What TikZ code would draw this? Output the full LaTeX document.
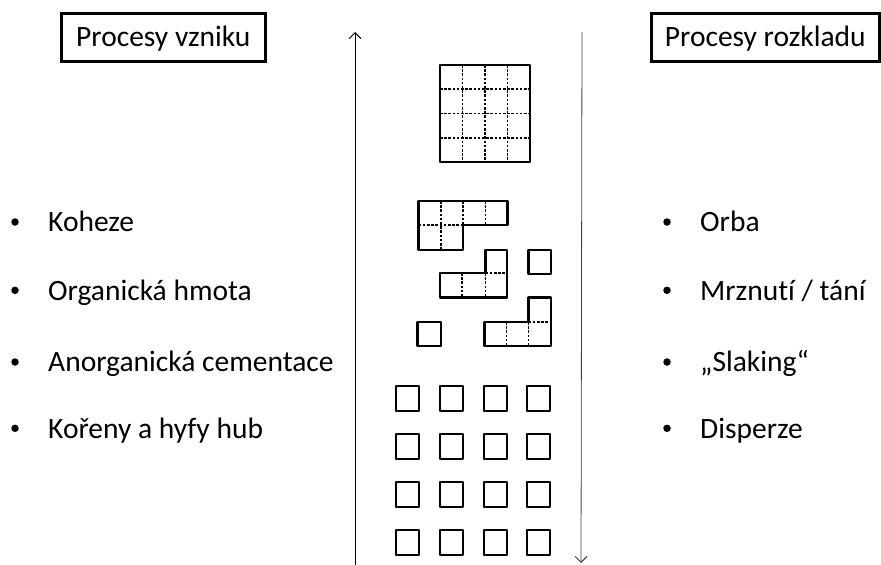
\documentclass[tikz,border=0pt]{standalone}
\usepackage{fontspec}
\setmainfont[Ligatures=NoCommon]{Carlito}
\usetikzlibrary{arrows.meta}

\tikzset{
  label text/.style={font=\fontsize{29.5}{35}\selectfont, inner sep=0pt, anchor=base west},
  bullet dot/.style={circle, fill, inner sep=0pt, minimum size=7.5pt},
  header/.style={draw, line width=2.6pt, inner sep=0pt,
    font=\fontsize{29.5}{35}\selectfont, text height=24pt, text depth=5.6pt},
  piece/.style={draw, line width=2.4pt, line join=round},
  seam/.style={line width=1.6pt, dash pattern=on 2.6pt off 1.6pt},
  axis/.style={line width=1pt, -{Straight Barb[length=6pt,width=12pt,line width=1pt]}},
}

\begin{document}
\begin{tikzpicture}[x=1pt, y=-1pt]
  \useasboundingbox (0,0) rectangle (881,565);

  % header boxes
  \node[header, minimum width=204pt, minimum height=48pt] (hleft) at (163.3,37.5) {Procesy vzniku};
  \node[header, minimum width=228pt, minimum height=48pt] (hright) at (765.3,37.5) {Procesy rozkladu};

  % formation list
  \node[bullet dot] (bk1) at (15,222) {};
  \node[label text] (tk1) at (48,231.7) {Koheze};
  \node[bullet dot] (bk2) at (15,290.3) {};
  \node[label text] (tk2) at (48,300) {Organická hmota};
  \node[bullet dot] (bk3) at (15,362) {};
  \node[label text] (tk3) at (48,371.7) {Anorganická cementace};
  \node[bullet dot] (bk4) at (15,428.3) {};
  \node[label text] (tk4) at (48,438) {Kořeny a hyfy hub};

  % breakdown list
  \node[bullet dot] (br1) at (667,222) {};
  \node[label text] (tr1) at (700,231.7) {Orba};
  \node[bullet dot] (br2) at (667,290.3) {};
  \node[label text] (tr2) at (700,300) {Mrznutí / tání};
  \node[bullet dot] (br3) at (667,362) {};
  \node[label text] (tr3) at (700,371.7) {„Slaking“};
  \node[bullet dot] (br4) at (667,428.3) {};
  \node[label text] (tr4) at (700,438) {Disperze};

  % vertical arrows
  \coordinate (upfoot) at (355,565);
  \coordinate (uptip) at (355,32);
  \draw[axis] (upfoot) -- (uptip);
  \coordinate (downtop) at (582,32);
  \coordinate (downtip) at (581,563);
  \draw[axis, black!75, line width=0.8pt] (downtop) -- (downtip);

  % intact aggregate: 4x4 grid
  \draw[piece] (440,65) rectangle (530,162);
  \foreach \x in {462.5,485,507.5}
    \draw[seam] (\x,65) -- (\x,162);
  \foreach \y in {89.25,113.5,137.75}
    \draw[seam] (440,\y) -- (530,\y);

  % fragments
  \draw[piece] (418.5,201) -- (507.5,201) -- (507.5,225) -- (463,225) -- (463,250) -- (418.5,250) -- cycle;
  \draw[seam] (441,201) -- (441,250);
  \draw[seam] (463,201) -- (463,225);
  \draw[seam] (485.5,201) -- (485.5,225);
  \draw[seam] (418.5,225) -- (463,225);

  \draw[piece] (440,273) -- (485.5,273) -- (485.5,250) -- (507,250) -- (507,297.5) -- (440,297.5) -- cycle;
  \draw[seam] (462,273) -- (462,297.5);
  \draw[seam] (485.5,273) -- (485.5,297.5);
  \draw[seam] (485.5,273) -- (507,273);

  \draw[piece] (528.5,250) rectangle (551,274);
  \draw[piece] (417.5,322) rectangle (441,346);

  \draw[piece] (484.5,322) -- (528.5,322) -- (528.5,297.5) -- (551,297.5) -- (551,346) -- (484.5,346) -- cycle;
  \draw[seam] (506.5,322) -- (506.5,346);
  \draw[seam] (528.5,322) -- (528.5,346);
  \draw[seam] (528.5,322) -- (551,322);

  % fully dispersed particles
  \foreach \x in {396,440,484,527}
    \foreach \y in {386,434,482,530}
      \draw[piece] (\x,\y) rectangle ++(23,25);
\end{tikzpicture}
\end{document}
